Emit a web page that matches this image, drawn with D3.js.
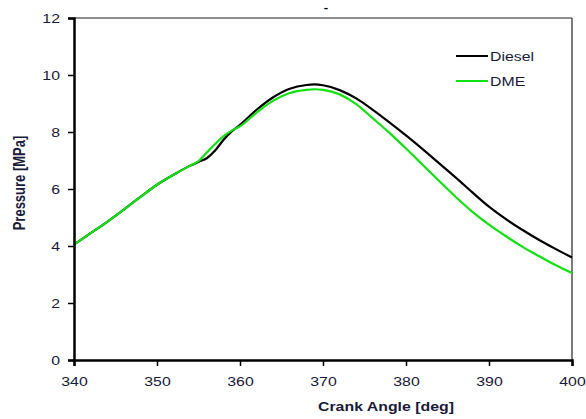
<!DOCTYPE html>
<html><head><meta charset="utf-8">
<script src="https://cdn.jsdelivr.net/npm/d3@7"></script>
<style>body{margin:0;background:#fff}svg{display:block}</style>
</head><body>
<script>
const angles = [340,342,344,346,348,350,352,354,355,356,357,358,359,360,362,364,366,368,369,370,372,374,376,378,380,382,384,386,388,390,392,394,396,398,400];
const diesel = [4.05,4.45,4.85,5.28,5.72,6.15,6.5,6.82,6.95,7.08,7.35,7.72,8.02,8.25,8.78,9.22,9.52,9.65,9.67,9.64,9.47,9.18,8.78,8.34,7.88,7.4,6.9,6.4,5.88,5.38,4.95,4.57,4.22,3.9,3.6];
const dme    = [4.05,4.45,4.85,5.28,5.72,6.15,6.5,6.82,6.98,7.28,7.58,7.85,8.05,8.2,8.68,9.1,9.37,9.48,9.5,9.48,9.32,8.98,8.48,7.97,7.42,6.85,6.28,5.72,5.2,4.75,4.35,3.98,3.65,3.33,3.05];
const xTicks = [340,350,360,370,380,390,400];
const yTicks = [0,2,4,6,8,10,12];
const seriesNames = ["Diesel","DME"];
const seriesColors = ["#000000","#11e011"];

const W=586,H=419;
const m={l:74,r:14,t:18,b:59};
const SX=1.22; // horizontal stretch of the reference text
const svg=d3.select("body").append("svg").attr("width",W).attr("height",H);
const x=d3.scaleLinear().domain([340,400]).range([m.l,W-m.r]);
const y=d3.scaleLinear().domain([0,12]).range([H-m.b,m.t]);
const font="Liberation Sans, Arial, sans-serif";
const txtCol="#1a1a3a";

svg.append("line").attr("x1",x(340)).attr("x2",x(400)).attr("y1",y(12)).attr("y2",y(12)).attr("stroke","#222").attr("stroke-width",1.2);
svg.append("line").attr("x1",x(400)).attr("x2",x(400)).attr("y1",y(12)).attr("y2",y(0)).attr("stroke","#222").attr("stroke-width",1.2);

const series=[diesel,dme];
const line=d3.line().x(d=>x(d[0])).y(d=>y(d[1])).curve(d3.curveMonotoneX);
series.forEach((vals,i)=>{
  svg.append("path").datum(angles.map((a,j)=>[a,vals[j]]))
    .attr("d",line).attr("fill","none").attr("stroke",seriesColors[i]).attr("stroke-width",2.2);
});

const xa=svg.append("g").attr("transform",`translate(0,${y(0)})`)
  .call(d3.axisBottom(x).tickValues(xTicks).tickSize(6).tickPadding(11).tickFormat(d3.format("d")));
const ya=svg.append("g").attr("transform",`translate(${x(340)},0)`)
  .call(d3.axisLeft(y).tickValues(yTicks).tickSize(6).tickPadding(8).tickFormat(d3.format("d")));
[xa,ya].forEach(a=>{
  a.select(".domain").attr("stroke","#000").attr("stroke-width",2.5);
  a.selectAll(".tick line").attr("stroke","#000").attr("stroke-width",1.5);
  a.selectAll("text").attr("font-family",font).attr("font-size",13).attr("fill",txtCol);
});
xa.selectAll(".tick text").attr("transform",`scale(${SX},1)`);
ya.selectAll(".tick text").attr("x",-14/SX).attr("transform",`scale(${SX},1)`);

function stretchedText(px,py,str,opts){
  const g=svg.append("g").attr("transform",`translate(${px},${py}) scale(${SX},1)${opts.rot?" rotate("+opts.rot+")":""}`);
  return g.append("text").attr("text-anchor",opts.anchor||"start")
    .attr("font-family",font).attr("font-size",opts.size||13).attr("font-weight",opts.bold?"bold":"normal")
    .attr("fill",opts.fill||txtCol).text(str);
}
stretchedText(386,411,"Crank Angle [deg]",{anchor:"middle",bold:true});
stretchedText(25,183,"Pressure [MPa]",{anchor:"middle",bold:true,rot:-90});
stretchedText(326,11,"-",{anchor:"middle",bold:true,size:11,fill:"#000"});

seriesNames.forEach((n,i)=>{
  const ly=56+i*25;
  svg.append("line").attr("x1",456).attr("x2",488).attr("y1",ly).attr("y2",ly).attr("stroke",seriesColors[i]).attr("stroke-width",2);
  stretchedText(490,ly+5,n,{});
});
</script>
</body></html>
